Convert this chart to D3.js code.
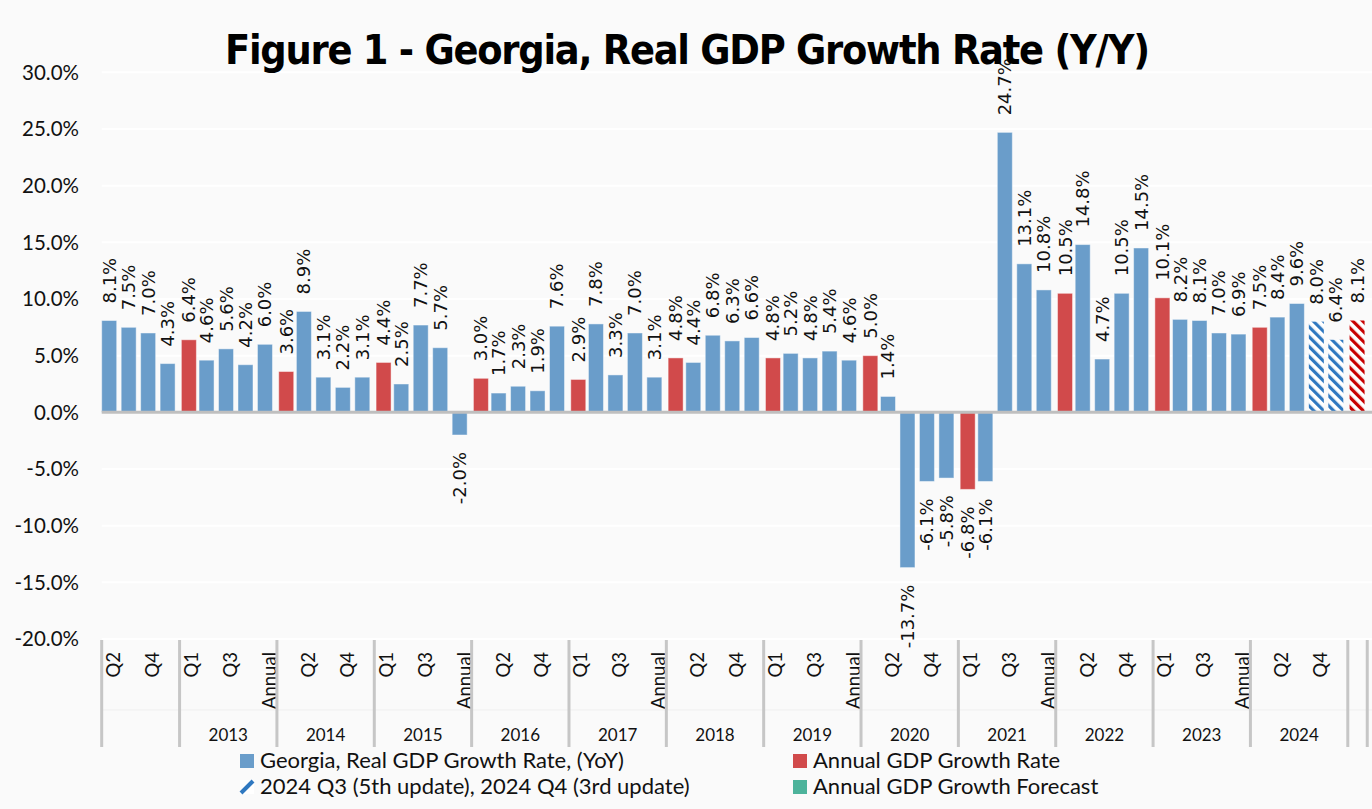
<!DOCTYPE html>
<html>
<head>
<meta charset="utf-8">
<script src="https://cdnjs.cloudflare.com/ajax/libs/d3/7.8.5/d3.min.js"></script>
<style>
	body { margin: 0; background: #fafafa; }
	svg { display: block; }
</style>
</head>
<body>
<svg id="chart"></svg>
<script>
// chart values, one entry per category slot (null = no bar in that series)
var slotLabels = [
	'Q2', 'Q3', 'Q4', 'Annual',
	'Q1', 'Q2', 'Q3', 'Q4', 'Annual', 'Q1', 'Q2', 'Q3', 'Q4', 'Annual',
	'Q1', 'Q2', 'Q3', 'Q4', 'Annual', 'Q1', 'Q2', 'Q3', 'Q4', 'Annual',
	'Q1', 'Q2', 'Q3', 'Q4', 'Annual', 'Q1', 'Q2', 'Q3', 'Q4', 'Annual',
	'Q1', 'Q2', 'Q3', 'Q4', 'Annual', 'Q1', 'Q2', 'Q3', 'Q4', 'Annual',
	'Q1', 'Q2', 'Q3', 'Q4', 'Annual', 'Q1', 'Q2', 'Q3', 'Q4', 'Annual',
	'Q1', 'Q2', 'Q3', 'Q4', 'Annual', 'Q1', 'Q2', 'Q3', 'Q4', 'Annual',
	''
];
var yearLabels = ['', '2013', '2014', '2015', '2016', '2017', '2018', '2019', '2020', '2021', '2022', '2023', '2024', ''];
var yearSizes = [4, 5, 5, 5, 5, 5, 5, 5, 5, 5, 5, 5, 5, 1];

var quarterly = [
	8.1, 7.5, 7.0, 4.3, null,
	4.6, 5.6, 4.2, 6.0, null,
	8.9, 3.1, 2.2, 3.1, null,
	2.5, 7.7, 5.7, -2.0, null,
	1.7, 2.3, 1.9, 7.6, null,
	7.8, 3.3, 7.0, 3.1, null,
	4.4, 6.8, 6.3, 6.6, null,
	5.2, 4.8, 5.4, 4.6, null,
	1.4, -13.7, -6.1, -5.8, null,
	-6.1, 24.7, 13.1, 10.8, null,
	14.8, 4.7, 10.5, 14.5, null,
	8.2, 8.1, 7.0, 6.9, null,
	8.4, 9.6, 8.0, 6.4, null
];
var annual = [
	null, null, null, null, 6.4,
	null, null, null, null, 3.6,
	null, null, null, null, 4.4,
	null, null, null, null, 3.0,
	null, null, null, null, 2.9,
	null, null, null, null, 4.8,
	null, null, null, null, 4.8,
	null, null, null, null, 5.0,
	null, null, null, null, -6.8,
	null, null, null, null, 10.5,
	null, null, null, null, 10.1,
	null, null, null, null, 7.5,
	null, null, null, null, 8.1
];
var updateSlots = [62, 63, 64]; // 2024 Q3/Q4 updates and annual forecast, drawn hatched
var yTicks = [30, 25, 20, 15, 10, 5, 0, -5, -10, -15, -20];

var legendItems = [
	{ name: 'Georgia, Real GDP Growth Rate, (YoY)', type: 'blue' },
	{ name: 'Annual GDP Growth Rate', type: 'red' },
	{ name: '2024 Q3 (5th update), 2024 Q4 (3rd update)', type: 'hatch' },
	{ name: 'Annual GDP Growth Forecast', type: 'teal' }
];

// layout constants
var width = 1372,
	height = 809,
	plotLeft = 101.7,
	slotWidth = 19.47,
	plotTop = 72.3,
	plotBottom = 639,
	barWidth = 15,
	labelGap = 17,
	blue = '#6a9dca',
	red = '#d14a4b',
	teal = '#4db39b';

// excel style percent, plain hyphen for negatives
var pct = function(v) { return d3.format('.1f')(v).replace('\u2212', '-') + '%'; };

var svg = d3.select('#chart')
	.attr('width', width)
	.attr('height', height);

var defs = svg.append('defs');

function hatch(id, color) {
	var p = defs.append('pattern')
		.attr('id', id)
		.attr('patternUnits', 'userSpaceOnUse')
		.attr('width', 7)
		.attr('height', 7)
		.attr('patternTransform', 'rotate(-45)');
	p.append('rect').attr('width', 7).attr('height', 7).attr('fill', '#ffffff');
	p.append('rect').attr('width', 3.2).attr('height', 7).attr('fill', color);
}
hatch('hatchBlue', '#2f78c0');
hatch('hatchRed', '#c80000');

var x = d3.scaleBand()
	.domain(d3.range(slotLabels.length))
	.range([plotLeft, plotLeft + slotLabels.length * slotWidth])
	.padding(0);

var y = d3.scaleLinear()
	.domain([-20, 30])
	.range([plotBottom, plotTop]);

/* --- gridlines and y axis --- */

svg.selectAll('.grid')
	.data(yTicks)
	.enter().append('line')
		.attr('class', 'grid')
		.attr('x1', plotLeft)
		.attr('x2', width)
		.attr('y1', function(d) { return y(d); })
		.attr('y2', function(d) { return y(d); })
		.attr('stroke', '#ffffff')
		.attr('stroke-width', 2);

svg.selectAll('.ytick')
	.data(yTicks)
	.enter().append('text')
		.attr('class', 'ytick')
		.attr('x', 79)
		.attr('y', function(d) { return y(d); })
		.attr('dy', '0.36em')
		.attr('text-anchor', 'end')
		.attr('font-family', 'Lato, sans-serif')
		.attr('font-size', 20.5)
		.attr('fill', '#111')
		.text(pct);

/* --- bars --- */

function isUpdate(i) { return updateSlots.indexOf(i) >= 0; }

var quarterData = quarterly.map(function(v, i) { return { i: i, v: v, series: 'q' }; })
	.filter(function(d) { return d.v !== null; });
var annualData = annual.map(function(v, i) { return { i: i, v: v, series: 'a' }; })
	.filter(function(d) { return d.v !== null; });
var allBars = quarterData.concat(annualData);

function barX(d) { return x(d.i) + (d.series === 'a' ? 1.8 : 0); }

svg.selectAll('.bar')
	.data(allBars)
	.enter().append('rect')
		.attr('class', 'bar')
		.attr('x', barX)
		.attr('width', barWidth)
		.attr('y', function(d) { return y(Math.max(0, d.v)); })
		.attr('height', function(d) { return Math.abs(y(d.v) - y(0)); })
		.attr('fill', function(d) {
			if (isUpdate(d.i)) return d.series === 'a' ? 'url(#hatchRed)' : 'url(#hatchBlue)';
			return d.series === 'a' ? red : blue;
		})
		.attr('stroke', function(d) { return isUpdate(d.i) ? 'none' : 'rgba(255,255,255,0.45)'; })
		.attr('stroke-width', 1);

// zero line
svg.append('line')
	.attr('x1', plotLeft)
	.attr('x2', width)
	.attr('y1', y(0))
	.attr('y2', y(0))
	.attr('stroke', '#bfbfbf')
	.attr('stroke-width', 3);

// value labels, rotated
svg.selectAll('.vlabel')
	.data(allBars)
	.enter().append('text')
		.attr('class', 'vlabel')
		.attr('transform', function(d) {
			var cx = barX(d) + barWidth / 2;
			var cy = d.v >= 0 ? y(d.v) - labelGap : y(d.v) + labelGap;
			return 'translate(' + cx + ',' + cy + ') rotate(-90)';
		})
		.attr('dy', '0.36em')
		.attr('text-anchor', function(d) { return d.v >= 0 ? 'start' : 'end'; })
		.attr('font-family', '"DejaVu Sans", sans-serif')
		.attr('font-size', 18)
		.attr('fill', '#111')
		.text(function(d) { return pct(d.v); });

/* --- category axis (two levels) --- */

var axisTop = 640, axisMid = 710, axisBottom = 747;

svg.append('line')
	.attr('x1', plotLeft).attr('x2', width)
	.attr('y1', axisMid).attr('y2', axisMid)
	.attr('stroke', '#efefef').attr('stroke-width', 1);

svg.selectAll('.qlabel')
	.data(slotLabels.filter(function(d, i) { return i % 2 === 0; }))
	.enter().append('text')
		.attr('class', 'qlabel')
		.attr('transform', function(d, k) {
			var i = k * 2;
			return 'translate(' + (x(i) + x.bandwidth() / 2 + 2) + ',' + 652 + ') rotate(-90)';
		})
		.attr('dy', '0.36em')
		.attr('text-anchor', 'end')
		.attr('font-family', 'Lato, sans-serif')
		.attr('font-size', 18.5)
		.attr('fill', '#111')
		.text(function(d) { return d; });

var groups = [], start = 0;
yearLabels.forEach(function(label, g) {
	groups.push({ label: label, start: start, end: start + yearSizes[g] });
	start += yearSizes[g];
});

var bounds = [groups[0].start].concat(groups.map(function(d) { return d.end; }));

svg.selectAll('.sep')
	.data(bounds)
	.enter().append('line')
		.attr('class', 'sep')
		.attr('x1', function(d) { return plotLeft + d * slotWidth; })
		.attr('x2', function(d) { return plotLeft + d * slotWidth; })
		.attr('y1', axisTop)
		.attr('y2', axisBottom)
		.attr('stroke', '#c6c6c6')
		.attr('stroke-width', 3);

svg.selectAll('.ylabel')
	.data(groups)
	.enter().append('text')
		.attr('class', 'ylabel')
		.attr('x', function(d) { return plotLeft + (d.start + d.end) / 2 * slotWidth; })
		.attr('y', 735)
		.attr('dy', '0.36em')
		.attr('text-anchor', 'middle')
		.attr('font-family', 'Lato, sans-serif')
		.attr('font-size', 17)
		.attr('fill', '#111')
		.text(function(d) { return d.label; });

/* --- title --- */

svg.append('text')
	.attr('x', 225)
	.attr('y', 64)
	.attr('textLength', 925)
	.attr('lengthAdjust', 'spacing')
	.attr('font-family', '"DejaVu Sans Condensed", "DejaVu Sans", sans-serif')
	.attr('font-weight', 'bold')
	.attr('font-size', 41)
	.attr('fill', '#000')
	.text('Figure 1 - Georgia, Real GDP Growth Rate (Y/Y)');

/* --- legend --- */

var legend = svg.selectAll('.legend')
	.data(legendItems)
	.enter().append('g')
		.attr('class', 'legend')
		.attr('transform', function(d, i) {
			return 'translate(' + (i % 2 === 0 ? 240 : 793) + ',' + (i < 2 ? 754 : 780) + ')';
		});

legend.each(function(d) {
	var g = d3.select(this);
	if (d.type === 'hatch') {
		g.append('rect').attr('width', 14).attr('height', 14).attr('fill', '#ffffff');
		g.append('line')
			.attr('x1', 1).attr('y1', 13).attr('x2', 13).attr('y2', 1)
			.attr('stroke', '#2f78c0').attr('stroke-width', 4);
	} else {
		g.append('rect').attr('width', 14).attr('height', 14)
			.attr('fill', d.type === 'blue' ? blue : d.type === 'red' ? red : teal);
	}
	g.append('text')
		.attr('x', 20)
		.attr('y', 14)
		.attr('font-family', 'Lato, sans-serif')
		.attr('font-size', 22)
		.attr('fill', '#111')
		.text(d.name);
});
</script>
</body>
</html>
